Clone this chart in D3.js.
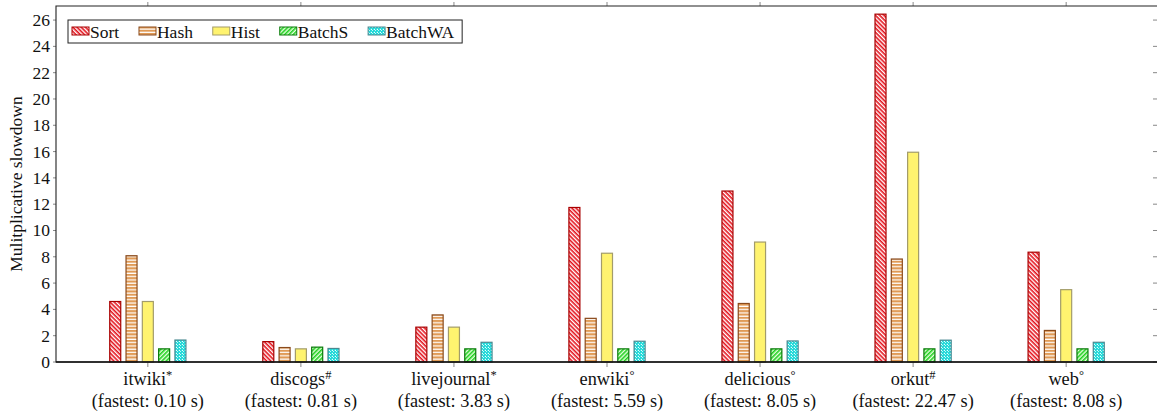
<!DOCTYPE html>
<html>
<head>
<meta charset="utf-8">
<script src="https://cdn.jsdelivr.net/npm/d3@7"></script>
</head>
<body style="margin:0">
<svg id="chart" width="1157" height="418"></svg>
<script>
// data
const datasets = ["itwiki", "discogs", "livejournal", "enwiki", "delicious", "orkut", "web"];
const marks = ["*", "#", "*", "\u00b0", "\u00b0", "#", "\u00b0"];
const fastest = ["0.10", "0.81", "3.83", "5.59", "8.05", "22.47", "8.08"];
const series = ["Sort", "Hash", "Hist", "BatchS", "BatchWA"];
const sortVals    = [4.6, 1.55, 2.65, 11.75, 13.0, 26.45, 8.35];
const hashVals    = [8.08, 1.1, 3.58, 3.32, 4.45, 7.83, 2.4];
const histVals    = [4.6, 1.0, 2.65, 8.27, 9.12, 15.95, 5.5];
const batchSVals  = [1.0, 1.13, 1.0, 1.0, 1.0, 1.0, 1.0];
const batchWAVals = [1.67, 1.03, 1.5, 1.58, 1.6, 1.66, 1.5];
const yTicks = d3.range(0, 27, 2);

const values = {Sort: sortVals, Hash: hashVals, Hist: histVals, BatchS: batchSVals, BatchWA: batchWAVals};

let svg = d3.select("#chart"),
    pLeft = 56, pRight = 1158, pTop = 6, pBottom = 362;
const FONT = "'Liberation Serif'";

// scales
let x = d3.scalePoint().domain(datasets).range([pLeft, pRight]).padding(0.6),
    xs = d3.scalePoint().domain(series).range([-32.6, 32.6]),
    y = d3.scaleLinear().domain([0, 27.07]).range([pBottom, pTop]);
const barW = 11;

// patterns for bar fills
let defs = svg.append("defs");

let pSort = defs.append("pattern").attr("id", "p-Sort")
    .attr("patternUnits", "userSpaceOnUse").attr("width", 3).attr("height", 3)
    .attr("patternTransform", "rotate(45)");
pSort.append("rect").attr("width", 3).attr("height", 3).attr("fill", "#fff");
pSort.append("rect").attr("width", 3).attr("height", 1.6).attr("fill", "#e3101a");

let pHash = defs.append("pattern").attr("id", "p-Hash")
    .attr("patternUnits", "userSpaceOnUse").attr("width", 4).attr("height", 3.3);
pHash.append("rect").attr("width", 4).attr("height", 3.3).attr("fill", "#fff");
pHash.append("rect").attr("width", 4).attr("height", 2.1).attr("fill", "#e09a55");

let pHist = defs.append("pattern").attr("id", "p-Hist")
    .attr("patternUnits", "userSpaceOnUse").attr("width", 4).attr("height", 4);
pHist.append("rect").attr("width", 4).attr("height", 4).attr("fill", "#fff36f");

let pBatchS = defs.append("pattern").attr("id", "p-BatchS")
    .attr("patternUnits", "userSpaceOnUse").attr("width", 3).attr("height", 3)
    .attr("patternTransform", "rotate(-45)");
pBatchS.append("rect").attr("width", 3).attr("height", 3).attr("fill", "#e9ffe0");
pBatchS.append("rect").attr("width", 3).attr("height", 1.6).attr("fill", "#1fd01f");

let pBatchWA = defs.append("pattern").attr("id", "p-BatchWA")
    .attr("patternUnits", "userSpaceOnUse").attr("width", 3).attr("height", 3);
pBatchWA.append("rect").attr("width", 3).attr("height", 3).attr("fill", "#1ed8d8");
pBatchWA.append("rect").attr("x", 1.8).attr("y", 1.8).attr("width", 1.2).attr("height", 1.2).attr("fill", "#e8ffff");
pBatchWA.append("rect").attr("x", 0).attr("y", 0).attr("width", 1).attr("height", 1).attr("fill", "#bff5f5");

const stroke = {Sort: "#a80000", Hash: "#8a4a1c", Hist: "#a39c6a", BatchS: "#0a7a0a", BatchWA: "#4a8890"};

// y ticks: outward on left, inward on right
svg.append("g").selectAll("line")
    .data(yTicks).enter().append("line")
    .attr("x1", pLeft - 3).attr("x2", pLeft)
    .attr("y1", d => y(d)).attr("y2", d => y(d))
    .attr("stroke", "#888").attr("stroke-width", 1);
svg.append("g").selectAll("line")
    .data(yTicks).enter().append("line")
    .attr("x1", 1153).attr("x2", pRight)
    .attr("y1", d => y(d)).attr("y2", d => y(d))
    .attr("stroke", "#888").attr("stroke-width", 1);
svg.append("g").selectAll("text")
    .data(yTicks).enter().append("text")
    .attr("x", 50).attr("y", d => y(d)).attr("dy", "0.34em")
    .attr("text-anchor", "end")
    .style("font-family", FONT)
    .style("font-size", "17.5px")
    .style("fill", "#111")
    .text(d => d);

// x ticks top and bottom
svg.append("g").selectAll("line")
    .data(datasets).enter().append("line")
    .attr("x1", d => x(d)).attr("x2", d => x(d))
    .attr("y1", pBottom).attr("y2", pBottom + 5)
    .attr("stroke", "#888");
svg.append("g").selectAll("line")
    .data(datasets).enter().append("line")
    .attr("x1", d => x(d)).attr("x2", d => x(d))
    .attr("y1", pTop - 4).attr("y2", pTop)
    .attr("stroke", "#888");

// bars
series.forEach(function(s) {
    svg.append("g").attr("class", "bars-" + s)
        .selectAll("rect")
        .data(datasets.map((d, i) => ({ds: d, v: values[s][i]})))
        .enter().append("rect")
        .attr("x", d => x(d.ds) + xs(s) - barW / 2)
        .attr("y", d => y(d.v))
        .attr("width", barW)
        .attr("height", d => y(0) - y(d.v))
        .attr("fill", "url(#p-" + s + ")")
        .attr("stroke", stroke[s])
        .attr("stroke-width", 1.2);
});

// frame
svg.append("path")
    .attr("d", "M" + pRight + "," + pTop + "H" + pLeft + "V" + pBottom + "H" + pRight)
    .attr("fill", "none").attr("stroke", "#222").attr("stroke-width", 1.1);
svg.append("line")
    .attr("x1", pLeft).attr("x2", pRight).attr("y1", pBottom).attr("y2", pBottom)
    .attr("stroke", "#111").attr("stroke-width", 1.6);

// x labels
let xl = svg.append("g").selectAll("g")
    .data(datasets).enter().append("g");
let l1 = xl.append("text")
    .attr("x", d => x(d)).attr("y", 385)
    .attr("text-anchor", "middle")
    .style("font-family", FONT)
    .style("font-size", "18.3px")
    .style("fill", "#111");
l1.append("tspan").text(d => d);
l1.append("tspan")
    .attr("dy", "-0.45em")
    .style("font-size", "12.5px")
    .text((d, i) => marks[i]);
xl.append("text")
    .attr("x", d => x(d)).attr("y", 407)
    .attr("text-anchor", "middle")
    .style("font-family", FONT)
    .style("font-size", "18.3px")
    .style("fill", "#111")
    .text((d, i) => "(fastest: " + fastest[i] + " s)");

// y label
svg.append("text")
    .attr("transform", "translate(22," + ((pTop + pBottom) / 2) + ") rotate(-90)")
    .attr("text-anchor", "middle")
    .style("font-family", FONT)
    .style("font-size", "17.5px")
    .style("fill", "#111")
    .text("Mulitplicative slowdown");

// legend
let legend = svg.append("g").attr("class", "legend");
let box = legend.append("rect")
    .attr("x", 68).attr("y", 20).attr("height", 23)
    .attr("fill", "#fff").attr("stroke", "#222").attr("stroke-width", 1);
let lx = 72, gap = 19.8;
series.forEach(function(s) {
    legend.append("rect")
        .attr("x", lx).attr("y", 27).attr("width", 17).attr("height", 8)
        .attr("fill", "url(#p-" + s + ")")
        .attr("stroke", stroke[s]).attr("stroke-width", 1);
    let t = legend.append("text")
        .attr("x", lx + 18).attr("y", 37.5)
        .style("font-family", FONT)
        .style("font-size", "17.5px")
        .style("fill", "#111")
        .text(s);
    lx = lx + 18 + t.node().getComputedTextLength() + gap;
});
box.attr("width", lx - gap + 8 - 68);
</script>
</body>
</html>
